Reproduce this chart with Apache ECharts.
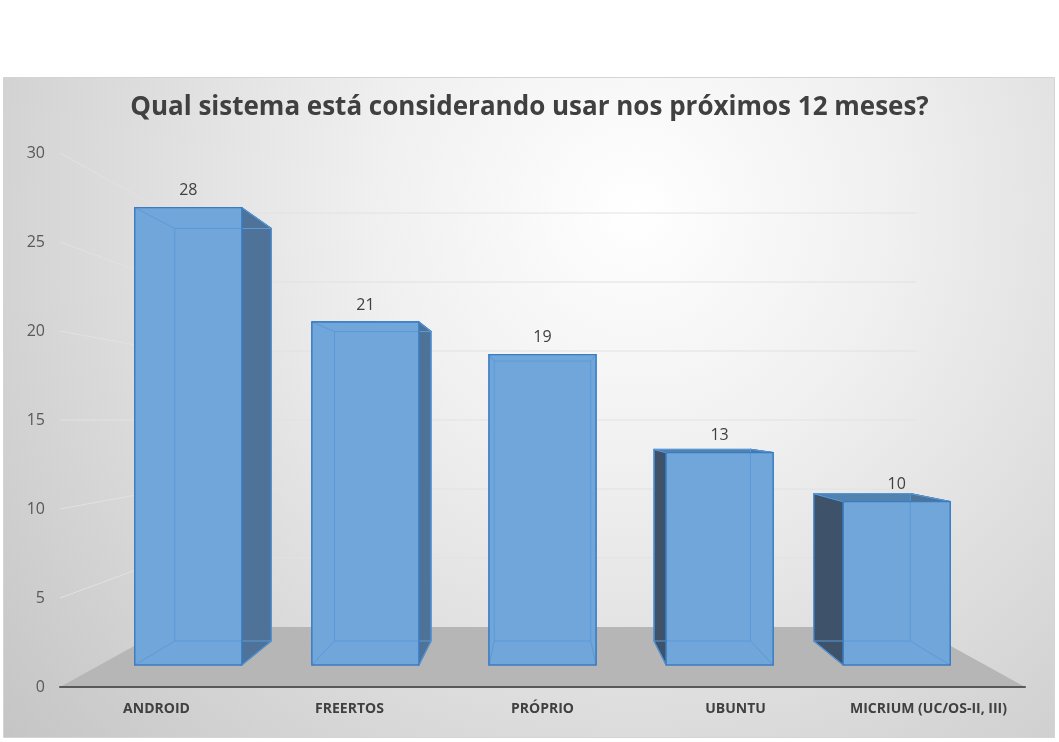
<!DOCTYPE html>
<html>
<head>
<meta charset="utf-8">
<script src="https://cdn.jsdelivr.net/npm/echarts@6/dist/echarts.min.js"></script>
<style>
  html, body { margin: 0; padding: 0; background: #fff; }
  #chart { width: 1059px; height: 742px; }
</style>
</head>
<body>
<div id="chart"></div>
<script>
// dados
const categories = ['ANDROID', 'FREERTOS', 'PRÓPRIO', 'UBUNTU', 'MICRIUM (UC/OS-II, III)'];
const values = [28, 21, 19, 13, 10];
const yTicks = [0, 5, 10, 15, 20, 25, 30];

// profundidade (perspectiva tipo Excel 3D)
const K_FRONT = 0.9176;
const K_BACK = 0.8277;
const K_WALL = 0.775;
const BAR_RATIO = 0.604;

function proj(p, vp, k) {
  return [vp[0] + k * (p[0] - vp[0]), vp[1] + k * (p[1] - vp[1])];
}

function vanish(cs) {
  return [cs.x + cs.width / 2, cs.y + cs.height / 2];
}

function renderWall(params, api) {
  const cs = params.coordSys;
  const vp = vanish(cs);
  const v = api.value(1);
  const y = api.coord([0, v])[1];
  const fl = [cs.x, y], fr = [cs.x + cs.width, y];
  const bl = proj(fl, vp, K_WALL), br = proj(fr, vp, K_WALL);
  const children = [];
  if (v === 0) {
    children.push({
      type: 'polygon',
      shape: { points: [fl, fr, br, bl] },
      style: { fill: '#b6b6b6', stroke: null }
    });
  } else {
    children.push({
      type: 'polyline',
      shape: { points: [fl, bl, br] },
      style: { fill: null, stroke: '#e2e2e2', lineWidth: 1 }
    });
  }
  return { type: 'group', children: children };
}

function renderBar(params, api) {
  const cs = params.coordSys;
  const vp = vanish(cs);
  const cat = api.value(0), v = api.value(1);
  const base = api.coord([cat, 0]);
  const top = api.coord([cat, v]);
  const hw = api.size([1, 0])[0] * BAR_RATIO / 2;
  const cx = base[0];
  const p = {
    lb: [cx - hw, base[1]], rb: [cx + hw, base[1]],
    lt: [cx - hw, top[1]], rt: [cx + hw, top[1]]
  };
  const F = {}, B = {};
  for (const key in p) {
    F[key] = proj(p[key], vp, K_FRONT);
    B[key] = proj(p[key], vp, K_BACK);
  }
  const edge = '#3a7cc1';
  const inner = '#5c9ad6';
  const poly = (pts, fill, stroke) => ({
    type: 'polygon',
    shape: { points: pts },
    style: { fill: fill, stroke: stroke, lineWidth: 1.3, lineJoin: 'round' }
  });
  const line = (a, b) => ({
    type: 'line',
    shape: { x1: a[0], y1: a[1], x2: b[0], y2: b[1] },
    style: { stroke: inner, lineWidth: 1 }
  });
  const children = [
    poly([F.lt, F.rt, B.rt, B.lt], '#5282b0', edge),
    poly([F.rt, B.rt, B.rb, F.rb], '#4f7398', edge),
    poly([B.lt, F.lt, F.lb, B.lb], '#3e5369', edge),
    poly([F.lt, F.rt, F.rb, F.lb], '#70a6da', null),
    line(B.lt, B.rt), line(B.rt, B.rb), line(B.rb, B.lb), line(B.lb, B.lt),
    line(F.lt, B.lt), line(F.rt, B.rt), line(F.rb, B.rb), line(F.lb, B.lb),
    poly([F.lt, F.rt, F.rb, F.lb], null, edge),
    {
      type: 'text',
      style: {
        text: String(v),
        x: (F.lt[0] + F.rt[0]) / 2,
        y: F.lt[1] - 17,
        align: 'center',
        verticalAlign: 'middle',
        fill: '#404040',
        font: '16px "Open Sans"'
      }
    }
  ];
  return { type: 'group', children: children };
}

const chart = echarts.init(document.getElementById('chart'), null, { renderer: 'canvas' });

const option = {
  animation: false,
  backgroundColor: '#ffffff',
  graphic: [{
    type: 'rect',
    z: -10,
    shape: { x: 3.5, y: 77.5, width: 1051, height: 660 },
    style: {
      fill: new echarts.graphic.RadialGradient(0.6, 0.2, 1.3, [
        { offset: 0, color: '#ffffff' },
        { offset: 0.3, color: '#f0f0f0' },
        { offset: 1, color: '#c2c2c2' }
      ]),
      stroke: '#d4d4d4',
      lineWidth: 1
    }
  }],
  title: {
    text: 'Qual sistema está considerando usar nos próximos 12 meses?',
    left: 'center',
    top: 95,
    padding: 0,
    textStyle: {
      fontFamily: 'Open Sans',
      fontSize: 26,
      fontWeight: 'bold',
      color: '#404040'
    }
  },
  grid: { left: 60, right: 34, top: 153, bottom: 55, containLabel: false },
  xAxis: {
    type: 'category',
    data: categories,
    z: 5,
    axisTick: { show: false },
    axisLine: { lineStyle: { color: '#595959', width: 2 } },
    axisLabel: {
      interval: 0,
      margin: 15,
      color: '#404040',
      fontFamily: 'Open Sans',
      fontSize: 14,
      fontWeight: 'bold'
    },
    splitLine: { show: false }
  },
  yAxis: {
    type: 'value',
    min: 0,
    max: 30,
    interval: 5,
    axisLine: { show: false },
    axisTick: { show: false },
    splitLine: { show: false },
    axisLabel: {
      margin: 15,
      color: '#595959',
      fontFamily: 'Open Sans',
      fontSize: 16
    }
  },
  series: [
    {
      type: 'custom',
      z: 1,
      silent: true,
      renderItem: renderWall,
      data: yTicks.map(v => [0, v])
    },
    {
      type: 'custom',
      z: 3,
      renderItem: renderBar,
      data: values.map((v, i) => [i, v])
    }
  ]
};

chart.setOption(option);
</script>
</body>
</html>
